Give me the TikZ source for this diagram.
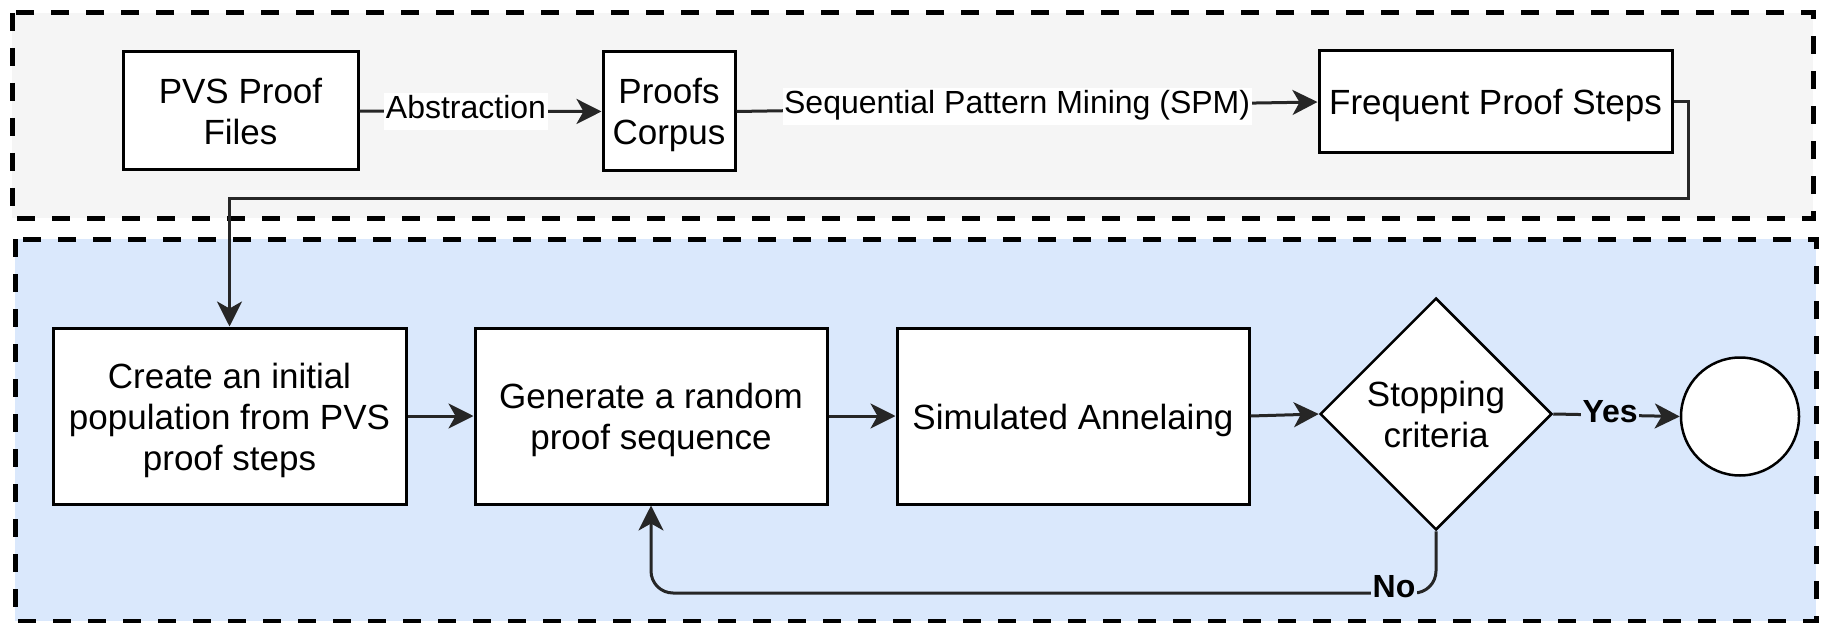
\documentclass[tikz,border=0pt]{standalone}
\usepackage{fontspec}
\setmainfont{Liberation Sans}
\usetikzlibrary{shapes.geometric,arrows.meta}
\definecolor{panelgray}{HTML}{F5F5F5}
\definecolor{panelblue}{HTML}{DAE8FC}
% struts that give every text line the same height and depth
\newcommand\nodestrut{\rule[-7.5pt]{0pt}{41pt}}
\newcommand\labelstrut{\rule[-10pt]{0pt}{34pt}}

\begin{document}
\begin{tikzpicture}[x=1pt,y=-1pt,
  panel/.style={draw=black, line width=5pt, dash pattern=on 18pt off 17pt},
  stepbox/.style={draw=black, fill=white, line width=3pt, inner sep=0pt,
    align=center, font=\fontsize{35}{41}\selectfont},
  conn/.style={draw=black!85, line width=3pt},
  arr/.style={conn, -{Stealth[length=25pt 0,width=25pt 0,inset=7pt 0]}},
  elabel/.style={font=\fontsize{32}{38}\selectfont, inner sep=1.5pt, fill=white},
  decision/.style={elabel, fill=panelblue, font=\fontsize{32}{38}\selectfont\bfseries},
]
\useasboundingbox (0,0) rectangle (1824,623);

% the two dashed stages
\draw[panel, fill=panelgray] (12,13) rectangle (1813,218);
\draw[panel, fill=panelblue] (15,239) rectangle (1816,621);

% mining stage
\node[stepbox, minimum width=235pt, minimum height=118pt] (pvs) at (240.5,111)
  {PVS Proof\nodestrut\\Files\nodestrut};
\node[stepbox, minimum width=132pt, minimum height=119pt] (corpus) at (669,111.5)
  {Proofs\nodestrut\\Corpus\nodestrut};
\node[stepbox, minimum width=353pt, minimum height=102pt] (freq) at (1495.5,102)
  {Frequent Proof Steps\nodestrut};

% search stage
\node[stepbox, minimum width=353pt, minimum height=176pt] (init) at (229.5,416)
  {Create an initial\nodestrut\\population from PVS\nodestrut\\proof steps\nodestrut};
\node[stepbox, minimum width=352pt, minimum height=176pt] (gen) at (651,416)
  {Generate a random\nodestrut\\proof sequence\nodestrut};
\node[stepbox, minimum width=352pt, minimum height=176pt] (sa) at (1073,416)
  {Simulated Annelaing\nodestrut};
\node[stepbox, diamond, aspect=1, line width=2.5pt, minimum width=232pt,
  minimum height=232pt] (stop) at (1436,414) {Stopping\nodestrut\\criteria\nodestrut};
\node[draw=black, fill=white, circle, line width=2.5pt, minimum size=118pt,
  inner sep=0pt] (done) at (1740,416.5) {};

% helper rails for the routed connectors
\coordinate (rail) at (0,198);
\coordinate (loop) at (0,593);

% connectors
\draw[arr] (pvs.east) -- node[elabel, pos=0.44] {Abstraction\labelstrut} (corpus.west);
\draw[arr] (corpus.east) -- node[elabel, pos=0.483] {Sequential Pattern Mining (SPM)\labelstrut} (freq.west);
\draw[arr] (freq.east) -- ++(15,0) |- (init.north |- rail) -- (init.north);
\draw[arr] (init) -- (gen);
\draw[arr] (gen) -- (sa);
\draw[arr] (sa.east) -- (stop.west);
\draw[arr] (stop.east) -- node[decision, pos=0.45] {Yes\labelstrut} (done.west);
\draw[arr, rounded corners=22pt] (stop.south) -- (stop.south |- loop)
  -- (gen.south |- loop) -- (gen.south);
\node[decision] (no) at (1394,590) {No\labelstrut};
\end{tikzpicture}
\end{document}
